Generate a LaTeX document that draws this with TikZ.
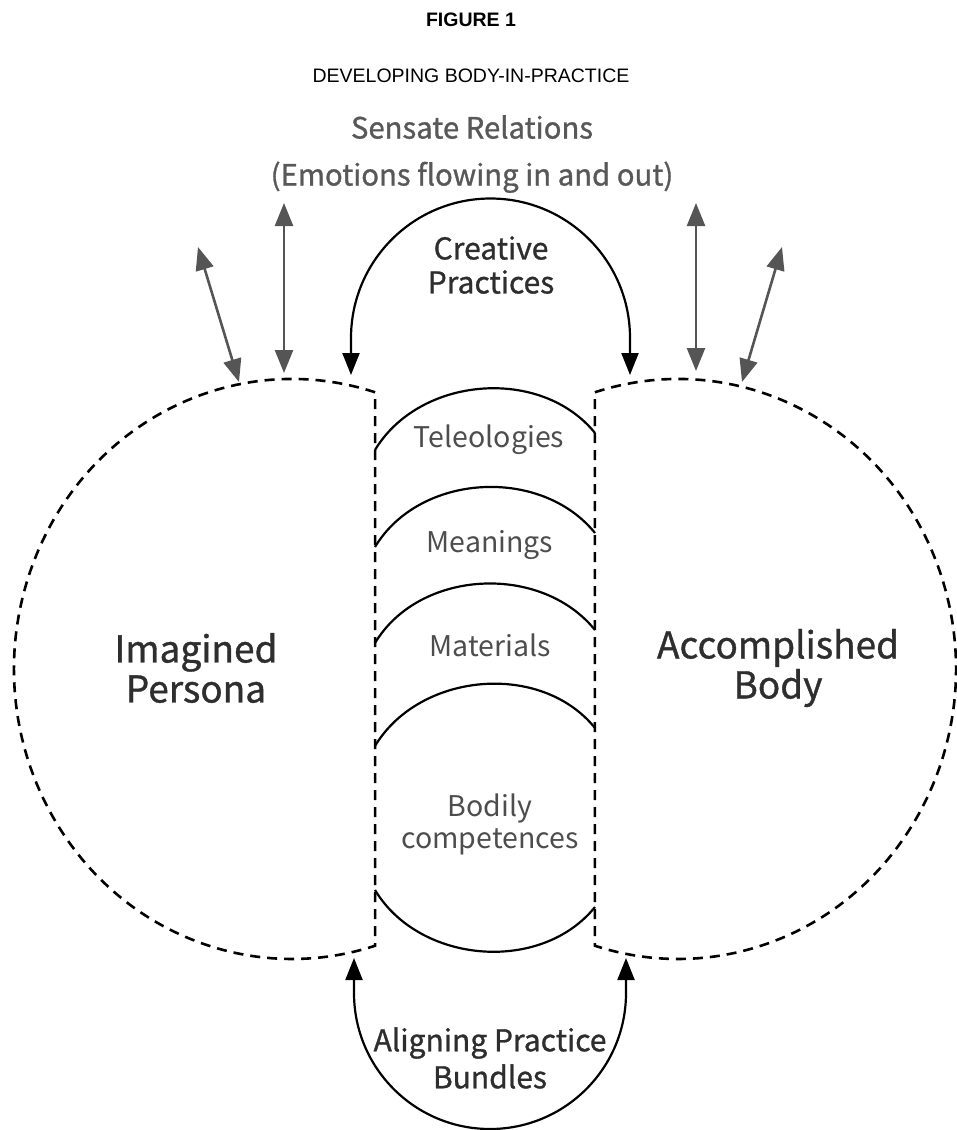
\documentclass[tikz,border=0pt]{standalone}
\usepackage{fontspec}
\setmainfont{Liberation Sans}
\newfontfamily\srcfont{Noto Sans CJK SC}
\newfontfamily\srcmed[FakeBold=1]{Noto Sans CJK SC}
\usetikzlibrary{arrows.meta,positioning}
\definecolor{labgray}{HTML}{4D4D4D}
\definecolor{relgray}{HTML}{585858}
\definecolor{arrgray}{HTML}{555555}
\definecolor{darktxt}{HTML}{2E2E2E}

\begin{document}
\begin{tikzpicture}[x=1pt, y=1pt,
  dashln/.style={draw, dash pattern=on 10pt off 7pt, line width=2.6pt},
  arcln/.style={draw, line width=2.2pt},
  flow/.style={line width=2.6pt, draw=arrgray, fill=arrgray, {Triangle[length=23pt,width=18pt]}-{Triangle[length=23pt,width=18pt]}},
  cyc/.style={line width=2.2pt, draw=black, {Triangle[length=22pt,width=17pt]}-{Triangle[length=22pt,width=17pt]}},
  lab/.style={font=\srcfont\fontsize{28.5}{32}\selectfont, text=labgray, align=center, inner sep=0pt},
  head/.style={font=\srcmed\fontsize{30}{34}\selectfont, text=darktxt, align=center, inner sep=0pt},
  big/.style={font=\srcmed\fontsize{37}{40}\selectfont, text=darktxt, align=center, inner sep=0pt}]
\useasboundingbox (0,0) rectangle (957,-1130);
\node[font=\bfseries\fontsize{19.5}{23}\selectfont, inner sep=0pt] (fig) at (471,-20) {FIGURE 1};
\node[font=\fontsize{19.5}{23}\selectfont, inner sep=0pt] (dev) at (471,-76) {DEVELOPING BODY-IN-PRACTICE};
\node[head, text=relgray, font=\srcmed\fontsize{29.3}{47}\selectfont] (sens) at (472,-154) {Sensate Relations\\(Emotions flowing in and out)};
\coordinate (lc) at (292,-669);
\coordinate (rc) at (678,-669);
\draw[dashln] (lc) ++(72.6:278 and 290) arc[start angle=72.6, end angle=287.4, x radius=278, y radius=290] -- cycle;
\draw[dashln] (rc) ++(107.4:278 and 290) arc[start angle=107.4, end angle=-107.4, x radius=278, y radius=290] -- cycle;
\coordinate (t1l) at (375,-450); \coordinate (t1r) at (595,-433);
\coordinate (t2l) at (375,-547); \coordinate (t2r) at (595,-533);
\coordinate (t3l) at (375,-643); \coordinate (t3r) at (595,-630);
\coordinate (t4l) at (375,-746); \coordinate (t4r) at (595,-728);
\coordinate (cul) at (375,-890); \coordinate (cur) at (595,-907);
\draw[arcln] (t1l) to[out=59, in=129] (t1r);
\draw[arcln] (t2l) to[out=59, in=129] (t2r);
\draw[arcln] (t3l) to[out=59, in=129] (t3r);
\draw[arcln] (t4l) to[out=59, in=129] (t4r);
\draw[arcln] (cul) to[out=-59, in=-129] (cur);
\node[lab] (tel) at (489,-440) {Teleologies};
\node[lab] (mea) at (490,-545) {Meanings};
\node[lab] (mat) at (490,-645) {Materials};
\node[lab] (bod) at (490,-824) {Bodily\\competences};
\node[big] (imag) at (196,-668) {Imagined\\Persona};
\node[big] (acc) at (778,-668) {Accomplished\\Body};
\node[head] (cre) at (491,-265) {Creative\\Practices};
\node[head, font=\srcmed\fontsize{30}{37}\selectfont] (ali) at (490,-1058) {Aligning Practice\\Bundles};
\coordinate (ca) at (351,-375); \coordinate (cb) at (630,-375);
\draw[cyc] (ca) -- ++(0,37) arc[start angle=180, end angle=0, radius=139.5] -- (cb);
\coordinate (aa) at (354,-958); \coordinate (ab) at (626,-958);
\draw[cyc] (aa) -- ++(0,-35) arc[start angle=180, end angle=360, radius=136] -- (ab);
\coordinate (p1) at (198,-247); \coordinate (q1) at (239,-382);
\coordinate (p2) at (284,-203); \coordinate (q2) at (284,-373);
\coordinate (p3) at (696,-203); \coordinate (q3) at (696,-371);
\coordinate (p4) at (782,-247); \coordinate (q4) at (742,-382);
\draw[flow] (p1) -- (q1);
\draw[flow] (p2) -- (q2);
\draw[flow] (p3) -- (q3);
\draw[flow] (p4) -- (q4);
\end{tikzpicture}
\end{document}
